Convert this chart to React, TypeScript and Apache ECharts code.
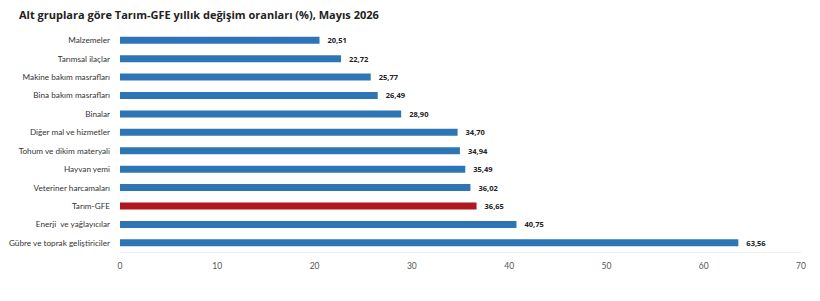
import React, { useEffect, useRef } from "react";
import * as echarts from "echarts";

const categories = [
  "Malzemeler",
  "Tarımsal ilaçlar",
  "Makine bakım masrafları",
  "Bina bakım masrafları",
  "Binalar",
  "Diğer mal ve hizmetler",
  "Tohum ve dikim materyali",
  "Hayvan yemi",
  "Veteriner harcamaları",
  "Tarım-GFE",
  "Enerji  ve yağlayıcılar",
  "Gübre ve toprak geliştiriciler",
];
const values = [20.51, 22.72, 25.77, 26.49, 28.9, 34.7, 34.94, 35.49, 36.02, 36.65, 40.75, 63.56];
const highlight = "Tarım-GFE";
const titleText = "Alt gruplara göre Tarım-GFE yıllık değişim oranları (%), Mayıs 2026";

export default function App() {
  const ref = useRef<HTMLDivElement>(null);
  useEffect(() => {
    if (!ref.current) return;
    const chart = echarts.init(ref.current, null, { renderer: "svg" });
    chart.setOption({
      animation: false,
      backgroundColor: "#ffffff",
      title: {
        text: titleText,
        left: 14,
        top: 4,
        textStyle: { fontFamily: "Open Sans", fontSize: 11, fontWeight: "bold", color: "#222" },
      },
      grid: { left: 120, right: 19, top: 31, bottom: 49, containLabel: false, outerBoundsMode: "none" },
      xAxis: {
        type: "value",
        min: 0,
        max: 70,
        interval: 10,
        splitLine: { show: false },
        axisLine: { show: false },
        axisTick: { show: false },
        axisLabel: { color: "#555", fontSize: 8.5, fontFamily: "Lato", margin: 9 },
      },
      yAxis: {
        type: "category",
        data: categories,
        inverse: true,
        axisLine: { show: false },
        axisTick: { show: false },
        axisLabel: { color: "#333", fontSize: 8.2, fontFamily: "Lato", margin: 10 },
      },
      series: [
        {
          type: "bar",
          barWidth: 7,
          data: values.map((v, i) => ({
            value: v,
            itemStyle: { color: categories[i] === highlight ? "#b0171f" : "#2e75b6" },
          })),
          label: {
            show: true,
            position: "right",
            distance: 8,
            fontSize: 7.5,
            fontWeight: "bold",
            fontFamily: "Open Sans",
            color: "#222",
            formatter: (p: any) => p.value.toFixed(2).replace(".", ","),
          },
        },
      ],
      graphic: [
        {
          type: "line",
          shape: { x1: 120, y1: 252.5, x2: 801, y2: 252.5 },
          style: { stroke: "#eeeeee", lineWidth: 1 },
        },
      ],
    });
    return () => chart.dispose();
  }, []);
  return <div ref={ref} style={{ width: 820, height: 301, position: "absolute", left: 0, top: 0 }} />;
}
